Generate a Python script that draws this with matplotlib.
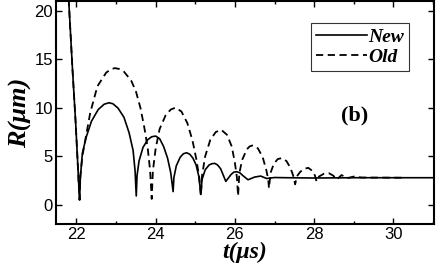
import matplotlib.pyplot as plt

# values
t_new = [21.70, 21.80, 21.90, 21.98, 22.03, 22.06, 22.08,
         22.10, 22.15, 22.25, 22.38, 22.55, 22.70, 22.82, 22.92, 23.05, 23.20, 23.33, 23.43, 23.48, 23.51,
         23.53, 23.58, 23.68, 23.80, 23.90, 24.00, 24.10, 24.20, 24.30, 24.38, 24.44,
         24.46, 24.52, 24.62, 24.70, 24.78, 24.86, 24.94, 25.02, 25.09, 25.14,
         25.17, 25.25, 25.35, 25.42, 25.49, 25.56, 25.64, 25.71, 25.77,
         25.90, 25.97, 26.04, 26.12, 26.20, 26.33, 26.50, 26.65, 26.80, 27.00, 27.30, 28.00, 29.00, 31.20]
r_new = [28.0, 21.5, 14.0, 8.5, 4.5, 2.0, 0.5,
         2.8, 5.3, 7.0, 8.6, 9.8, 10.35, 10.5, 10.4, 9.95, 9.0, 7.4, 5.6, 3.5, 0.9,
         3.0, 4.5, 5.9, 6.7, 7.0, 7.07, 6.8, 6.0, 4.8, 3.3, 1.35,
         2.8, 4.0, 4.9, 5.25, 5.35, 5.2, 4.8, 4.1, 2.9, 1.05,
         2.6, 3.6, 4.1, 4.22, 4.26, 4.1, 3.7, 3.0, 2.4,
         3.1, 3.35, 3.4, 3.3, 3.0, 2.57, 2.85, 2.95, 2.7, 2.8, 2.78, 2.75, 2.78, 2.78]

t_old = [21.70, 21.80, 21.90, 21.98, 22.03, 22.06, 22.08,
         22.10, 22.15, 22.23, 22.35, 22.53, 22.75, 22.87, 22.97, 23.08, 23.20, 23.38, 23.50, 23.62, 23.72, 23.80, 23.86, 23.90,
         23.93, 24.00, 24.10, 24.25, 24.38, 24.50, 24.65, 24.80, 24.93, 25.03, 25.10, 25.14,
         25.17, 25.25, 25.38, 25.52, 25.66, 25.80, 25.92, 26.00, 26.05, 26.08,
         26.11, 26.18, 26.30, 26.37, 26.44, 26.51, 26.58, 26.70, 26.79, 26.84, 26.86,
         26.90, 26.98, 27.08, 27.18, 27.30, 27.40, 27.47, 27.52,
         27.56, 27.65, 27.75, 27.85, 27.95, 28.02, 28.06,
         28.12, 28.25, 28.37, 28.48, 28.57,
         28.69, 28.85, 29.00, 29.20, 30.30]
r_old = [28.0, 21.5, 14.0, 8.5, 4.5, 2.0, 0.5,
         3.0, 5.0, 6.8, 9.5, 12.2, 13.6, 13.95, 14.07, 13.98, 13.7, 12.8, 11.7, 9.9, 7.8, 5.8, 3.5, 0.6,
         3.5, 5.8, 7.8, 9.2, 9.8, 10.0, 9.6, 8.4, 6.6, 4.6, 2.8, 0.9,
         3.0, 5.0, 6.7, 7.5, 7.7, 7.2, 6.0, 4.3, 2.8, 0.9,
         3.2, 4.6, 5.7, 6.0, 6.1, 6.0, 5.8, 4.9, 3.6, 2.6, 1.7,
         3.3, 4.2, 4.7, 4.8, 4.5, 3.8, 3.0, 2.1,
         2.9, 3.4, 3.7, 3.8, 3.5, 3.0, 2.4,
         2.9, 3.2, 3.25, 3.0, 2.6,
         3.05, 2.75, 2.9, 2.8, 2.78]

x_ticks = [22, 24, 26, 28, 30]
y_ticks = [0, 5, 10, 15, 20]

serif = {"family": "Liberation Serif", "weight": "bold", "style": "italic"}

fig = plt.figure(figsize=(4.36, 2.73), dpi=100)
ax = fig.add_axes([0.128, 0.179, 0.868, 0.818])

ax.plot(t_new, r_new, color="black", lw=1.2, label="New")
ax.plot(t_old, r_old, color="black", lw=1.3, ls=(0, (4, 2.5)), label="Old")

ax.set_xlim(21.48, 31.03)
ax.set_ylim(-2, 21)
ax.set_xticks(x_ticks)
ax.set_yticks(y_ticks)
ax.set_xticks(range(22, 32), minor=True)
ax.tick_params(which="both", direction="in", top=True, right=True,
               labelsize=12, length=4, width=1, pad=2)
ax.tick_params(which="minor", length=2.5)
for lab in ax.get_xticklabels() + ax.get_yticklabels():
    lab.set_family("Liberation Sans")
for sp in ax.spines.values():
    sp.set_linewidth(1.5)

ax.set_xlabel("t(μs)", fontdict=serif, fontsize=17, labelpad=0)
ax.set_ylabel("R(μm)", fontdict=serif, fontsize=19, labelpad=2)

ax.text(29.03, 9.2, "(b)", family="Liberation Serif", weight="bold",
        fontsize=16, ha="center", va="center")

leg = ax.legend(loc="upper right", bbox_to_anchor=(0.934, 0.90),
                prop={"family": "Liberation Serif", "weight": "bold",
                      "style": "italic", "size": 14},
                frameon=True, fancybox=False, edgecolor="black",
                handlelength=2.6, handletextpad=0.1, borderpad=0.25,
                labelspacing=0.15, borderaxespad=0)
leg.get_frame().set_linewidth(0.8)

fig.savefig("out.png", dpi=100)
